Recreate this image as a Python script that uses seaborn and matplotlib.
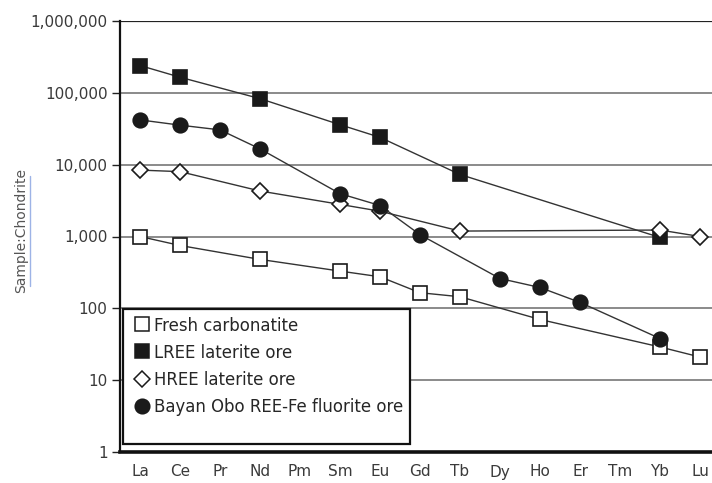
import numpy as np
import pandas as pd
import matplotlib
matplotlib.use("Agg")
import matplotlib.pyplot as plt
import seaborn as sns
from matplotlib.lines import Line2D
from matplotlib.patches import Rectangle
from matplotlib.ticker import FuncFormatter
from matplotlib import font_manager

sns.set_style("white")
plt.rcParams['font.family'] = ['DejaVu Sans']

# chondrite-normalised REE data
elements = ['La', 'Ce', 'Pr', 'Nd', 'Pm', 'Sm', 'Eu', 'Gd', 'Tb', 'Dy', 'Ho', 'Er', 'Tm', 'Yb', 'Lu']
nan = np.nan
fresh = [1000, 750, nan, 480, nan, 330, 275, 165, 145, nan, 70, nan, nan, 29, 21]
lree = [240000, 165000, nan, 83000, nan, 36000, 24000, nan, 7300, nan, nan, nan, nan, 970, nan]
hree = [8400, 8000, nan, 4300, nan, 2800, 2250, nan, 1190, nan, nan, nan, nan, 1230, 1000]
bayan = [42000, 35500, 30500, 16600, nan, 3950, 2700, 1060, nan, 260, 195, 121, nan, 38, nan]

series = [
    ('Fresh carbonatite', fresh, 's', 'white', 9.5),
    ('LREE laterite ore', lree, 's', '#1a1a1a', 9.5),
    ('HREE laterite ore', hree, 'D', 'white', 8),
    ('Bayan Obo REE-Fe fluorite ore', bayan, 'o', '#1a1a1a', 10.5),
]

# pick a narrow face for the legend if one is there
names = {f.name for f in font_manager.fontManager.ttflist}
narrow = 'Liberation Sans Narrow' if 'Liberation Sans Narrow' in names else None

fig = plt.figure(figsize=(7.12, 4.83), dpi=100)
ax = fig.add_axes([120 / 712, 31 / 483, 600 / 712, 431 / 483])

for name, vals, mk, fc, ms in series:
    df = pd.DataFrame({'x': np.arange(len(elements)), 'y': vals}).dropna()
    sns.lineplot(data=df, x='x', y='y', ax=ax, color='#333333', lw=1,
                 marker=mk, markersize=ms, markerfacecolor=fc,
                 markeredgecolor='#1a1a1a', markeredgewidth=1.2, zorder=3)

ax.set_yscale('log')
ax.set_ylim(1, 1e6)
ax.set_xlim(-0.5, len(elements) - 0.5)
ax.set_yticks([1, 10, 100, 1000, 1e4, 1e5, 1e6])
ax.yaxis.set_major_formatter(FuncFormatter(lambda v, p: f'{int(v):,}'))
ax.yaxis.set_minor_locator(matplotlib.ticker.NullLocator())
ax.set_xticks(np.arange(len(elements)))
ax.set_xticklabels(elements)
ax.tick_params(axis='y', direction='out', length=6, width=1, color='#222222',
               labelsize=11, labelcolor='#3a3a3a', pad=3, left=True)
ax.tick_params(axis='x', length=0, labelsize=11, labelcolor='#3a3a3a', pad=9)
ax.grid(axis='y', color='#8a8a8a', lw=1.4)
ax.grid(axis='x', visible=False)
ax.set_xlabel('')
ax.set_ylabel('Sample:Chondrite', fontsize=10, color='#555555')
ax.yaxis.set_label_coords(-0.153, 0.515)

for side in ['top', 'right']:
    ax.spines[side].set_visible(False)
ax.axhline(1e6, color='#222222', lw=1.6, zorder=2)
ax.spines['left'].set_color('#111111')
ax.spines['left'].set_linewidth(1.6)
ax.spines['bottom'].set_color('#111111')
ax.spines['bottom'].set_linewidth(2.6)

# hyperlink-style underline next to the axis label
fig.add_artist(Line2D([30 / 712, 30 / 712], [1 - 286 / 483, 1 - 176 / 483],
                      color='#9db3e6', lw=1))

# legend box
ax.add_patch(Rectangle((0.005, 0.019), 0.478, 0.313, transform=ax.transAxes,
                       facecolor='white', edgecolor='#111111', lw=1.6, zorder=4))
handles = [Line2D([], [], ls='none', marker=mk, markersize=ms, markerfacecolor=fc,
                  markeredgecolor='#1a1a1a', markeredgewidth=1.1)
           for name, vals, mk, fc, ms in series]
if narrow:
    prop = {'family': narrow, 'size': 13.5}
else:
    prop = {'family': 'DejaVu Sans', 'size': 13.2, 'stretch': 'condensed'}
leg = ax.legend(handles, [s[0] for s in series], loc='upper left',
                bbox_to_anchor=(0.01, 0.333), frameon=False, handlelength=0.8,
                handletextpad=0.3, labelspacing=0.5, borderaxespad=0.05,
                prop=prop)
leg.set_zorder(5)

fig.savefig('out.png', dpi=100)
